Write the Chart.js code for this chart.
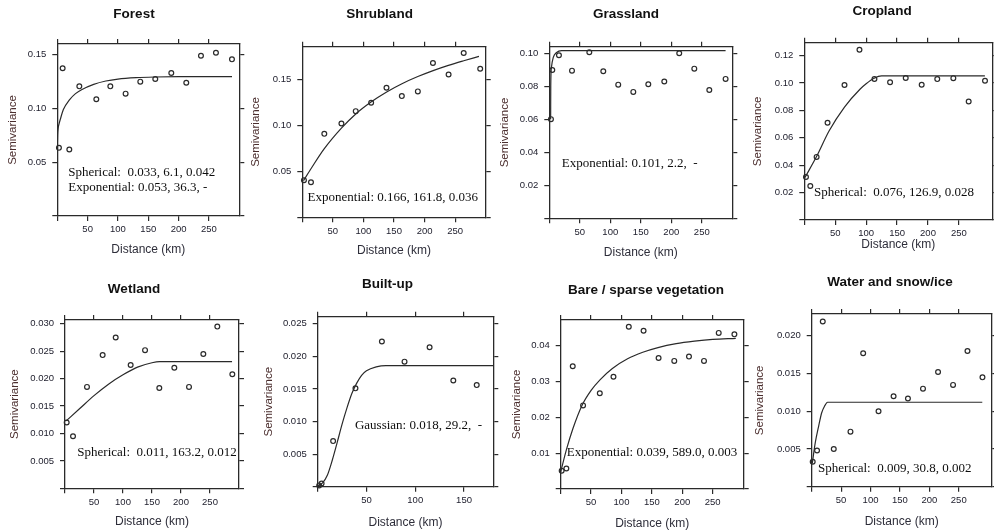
<!DOCTYPE html>
<html>
<head>
<meta charset="utf-8">
<script src="https://cdn.jsdelivr.net/npm/chart.js@4.4.1/dist/chart.umd.min.js"></script>
<style>
  html, body { margin: 0; padding: 0; background: #fff; overflow: hidden; }
  #wrap { position: relative; width: 994px; height: 532px; overflow: hidden; background: #fff; }
  #wrap canvas { position: absolute; }
</style>
</head>
<body>
<div id="wrap"></div>
<script>
// ---- data (lag in km, semivariance) ----
const forestLag   = [2.7, 8.8, 19.8, 36.3, 64.3, 87.4, 112.6, 136.8, 161.5, 187.9, 212.6, 236.8, 261.5, 287.9];
const forestGamma = [0.0634, 0.1374, 0.0619, 0.1206, 0.1086, 0.1206, 0.1138, 0.125, 0.1274, 0.133, 0.124, 0.1491, 0.1519, 0.1457];
const forestFitLag = [0, 0.5, 1.5, 3, 5, 10, 20, 30, 40, 60, 80, 100, 130, 160, 200, 288];
const forestFit    = [0.064, 0.075, 0.082, 0.086, 0.090, 0.099, 0.108, 0.1138, 0.1175, 0.1225, 0.1256, 0.1274, 0.1287, 0.1293, 0.1296, 0.1296];

const shrubLag   = [2.7, 14.2, 36, 64, 87.4, 112.6, 137.7, 162.8, 189, 213.7, 239.3, 264, 291];
const shrubGamma = [0.0404, 0.0382, 0.0909, 0.1022, 0.1156, 0.1247, 0.1411, 0.132, 0.1371, 0.168, 0.1556, 0.1789, 0.1618];
const shrubFitLag = [2, 15, 36, 64, 87, 113, 138, 163, 189, 214, 239, 264, 289];
const shrubFit    = [0.040, 0.0537, 0.0747, 0.0971, 0.1123, 0.1258, 0.1365, 0.1455, 0.1533, 0.1598, 0.1655, 0.1705, 0.1752];

const grassLag   = [2.7, 4.9, 15.8, 37.2, 65.6, 88.5, 113, 137.7, 162.3, 188.5, 213, 237.7, 262.3, 289];
const grassGamma = [0.0601, 0.0899, 0.0988, 0.0895, 0.1006, 0.0891, 0.081, 0.0766, 0.0812, 0.0829, 0.1, 0.0907, 0.0778, 0.0845];
const grassFitLag = [2.2, 2.4, 3.5, 6.5, 12, 20, 289];
const grassFit    = [0.060, 0.080, 0.0915, 0.0975, 0.1005, 0.1016, 0.1016];

const cropLag   = [2.7, 9.7, 19.9, 37.6, 65, 89.2, 113.4, 138.7, 164, 189.8, 215, 241, 265.8, 292.2];
const cropGamma = [0.0314, 0.0248, 0.0461, 0.0710, 0.0986, 0.1243, 0.103, 0.1006, 0.1037, 0.0988, 0.1029, 0.1036, 0.0866, 0.1017];
const cropFitLag = [1, 20, 40, 65, 90, 100, 113, 125, 292];
const cropFit    = [0.031, 0.0465, 0.065, 0.0825, 0.0955, 0.0995, 0.1035, 0.1052, 0.1052];

const wetLag   = [2.9, 13.8, 37.9, 64.9, 87.4, 113.2, 138, 162.6, 188.5, 213.8, 238.5, 262.6, 288.5];
const wetGamma = [0.0120, 0.0095, 0.0185, 0.0243, 0.0275, 0.0225, 0.0252, 0.0183, 0.0220, 0.0185, 0.0245, 0.0295, 0.0208];
const wetFitLag = [2, 25, 50, 75, 100, 125, 150, 163, 288];
const wetFit    = [0.0123, 0.0145, 0.0169, 0.019, 0.0207, 0.0221, 0.0229, 0.0231, 0.0231];

const builtLag   = [1.5, 4, 15.8, 38.7, 65.8, 89, 114.7, 139, 163];
const builtGamma = [0.0002, 0.0005, 0.0070, 0.0151, 0.0223, 0.0192, 0.0214, 0.0163, 0.0156];
const builtFitLag = [0, 5, 10, 15, 20, 25, 30, 35, 40, 45, 50, 60, 70, 180];
const builtFit    = [0.0001, 0.0006, 0.0018, 0.0041, 0.0068, 0.0096, 0.0121, 0.0143, 0.0159, 0.0171, 0.0178, 0.0184, 0.0186, 0.0186];

const bareLag   = [1.6, 9.3, 19.8, 36.8, 64.3, 86.8, 112, 136.3, 161, 186.8, 211, 235.7, 259.9, 285.7];
const bareGamma = [0.0051, 0.0057, 0.0342, 0.0233, 0.0267, 0.0313, 0.0452, 0.0441, 0.0365, 0.0357, 0.0369, 0.0357, 0.0435, 0.0431];
const bareFitLag = [0, 10, 20, 35, 50, 65, 85, 110, 135, 160, 190, 220, 250, 288];
const bareFit    = [0.0048, 0.0113, 0.0168, 0.0233, 0.0275, 0.0305, 0.0336, 0.0363, 0.0381, 0.0394, 0.0405, 0.0412, 0.0417, 0.042];

const waterLag   = [1.7, 9.1, 18.8, 37.5, 65.9, 87.5, 113.6, 139.2, 163.6, 189.2, 214.8, 240.3, 264.8, 290.3];
const waterGamma = [0.0033, 0.0048, 0.0219, 0.0050, 0.0073, 0.0177, 0.0100, 0.0120, 0.0117, 0.0130, 0.0152, 0.0135, 0.0180, 0.0145];
const waterFitLag = [1, 6, 12, 17, 22, 27, 290];
const waterFit    = [0.0031, 0.0058, 0.0081, 0.0098, 0.0107, 0.0112, 0.0112];

// tick values
const xTicks300 = [0, 50, 100, 150, 200, 250];
const xTicks180 = [0, 50, 100, 150];
const yTicksForest = [0, 0.05, 0.10, 0.15];
const yTicksShrub  = [0, 0.05, 0.10, 0.15];
const yTicksGrass  = [0, 0.02, 0.04, 0.06, 0.08, 0.10];
const yTicksCrop   = [0, 0.02, 0.04, 0.06, 0.08, 0.10, 0.12];
const yTicksWet    = [0, 0.005, 0.010, 0.015, 0.020, 0.025, 0.030];
const yTicksBuilt  = [0, 0.005, 0.010, 0.015, 0.020, 0.025];
const yTicksBare   = [0, 0.01, 0.02, 0.03, 0.04];
const yTicksWater  = [0, 0.005, 0.010, 0.015, 0.020];

const panels = [
  { name: 'Forest', lag: forestLag, gamma: forestGamma, fitLag: forestFitLag, fit: forestFit,
    xMax: 300, yMax: 0.160, xTicks: xTicks300, yTicks: yTicksForest, dec: 2,
    notes: [{ text: 'Spherical:  0.033, 6.1, 0.042', fx: 0.060, fy: 0.745 },
            { text: 'Exponential: 0.053, 36.3, -', fx: 0.060, fy: 0.833 }],
    box: [57.3, 44, 239.3, 216], tx: 134, ty: 14, yx: 12.7, xy: 249.3 },
  { name: 'Shrubland', lag: shrubLag, gamma: shrubGamma, fitLag: shrubFitLag, fit: shrubFit,
    xMax: 300, yMax: 0.1858, xTicks: xTicks300, yTicks: yTicksShrub, dec: 2,
    notes: [{ text: 'Exponential: 0.166, 161.8, 0.036', fx: 0.029, fy: 0.883 }],
    box: [302.3, 46.7, 485.7, 217.3], tx: 379.5, ty: 14, yx: 256, xy: 250.7 },
  { name: 'Grassland', lag: grassLag, gamma: grassGamma, fitLag: grassFitLag, fit: grassFit,
    xMax: 300, yMax: 0.104, xTicks: xTicks300, yTicks: yTicksGrass, dec: 2,
    notes: [{ text: 'Exponential: 0.101, 2.2,  -', fx: 0.068, fy: 0.679 }],
    box: [549.3, 46.7, 732.3, 218.3], tx: 626, ty: 14, yx: 505, xy: 252.7 },
  { name: 'Cropland', lag: cropLag, gamma: cropGamma, fitLag: cropFitLag, fit: cropFit,
    xMax: 304, yMax: 0.1295, xTicks: xTicks300, yTicks: yTicksCrop, dec: 2,
    notes: [{ text: 'Spherical:  0.076, 126.9, 0.028', fx: 0.052, fy: 0.846 }],
    box: [804.3, 42.7, 992.3, 220], tx: 882, ty: 11, yx: 757.7, xy: 245 },
  { name: 'Wetland', lag: wetLag, gamma: wetGamma, fitLag: wetFitLag, fit: wetFit,
    xMax: 300, yMax: 0.0307, xTicks: xTicks300, yTicks: yTicksWet, dec: 3,
    notes: [{ text: 'Spherical:  0.011, 163.2, 0.012', fx: 0.071, fy: 0.788 }],
    box: [65, 320, 239, 488.3], tx: 134, ty: 289, yx: 15, xy: 521.7 },
  { name: 'Built-up', lag: builtLag, gamma: builtGamma, fitLag: builtFitLag, fit: builtFit,
    xMax: 180, yMax: 0.0261, xTicks: xTicks180, yTicks: yTicksBuilt, dec: 3,
    notes: [{ text: 'Gaussian: 0.018, 29.2,  -', fx: 0.212, fy: 0.643 }],
    box: [317.7, 316.7, 493.3, 486.7], tx: 387.7, ty: 284, yx: 269, xy: 522.7 },
  { name: 'Bare / sparse vegetation', lag: bareLag, gamma: bareGamma, fitLag: bareFitLag, fit: bareFit,
    xMax: 301, yMax: 0.0471, xTicks: xTicks300, yTicks: yTicksBare, dec: 2,
    notes: [{ text: 'Exponential: 0.039, 589.0, 0.003', fx: 0.033, fy: 0.785 }],
    box: [560.7, 320, 743.7, 489], tx: 646, ty: 290, yx: 516.7, xy: 524 },
  { name: 'Water and snow/ice', lag: waterLag, gamma: waterGamma, fitLag: waterFitLag, fit: waterFit,
    xMax: 306, yMax: 0.0229, xTicks: xTicks300, yTicks: yTicksWater, dec: 3,
    notes: [{ text: 'Spherical:  0.009, 30.8, 0.002', fx: 0.035, fy: 0.897 }],
    box: [811.7, 314, 991.7, 486.7], tx: 890, ty: 281.7, yx: 760, xy: 521.7 }
];

Chart.defaults.font.family = '"Liberation Sans", Arial, sans-serif';
Chart.defaults.color = '#222230';

// model text written inside the plot box
const notesPlugin = {
  id: 'notes',
  afterDatasetsDraw(chart, args, opts) {
    const a = chart.chartArea, ctx = chart.ctx;
    ctx.save();
    ctx.font = '13px "Liberation Serif", "Times New Roman", serif';
    ctx.fillStyle = '#0d0d0d';
    ctx.textBaseline = 'middle';
    (opts.items || []).forEach(n => {
      ctx.fillText(n.text, a.left + n.fx * (a.right - a.left), a.top + n.fy * (a.bottom - a.top));
    });
    ctx.restore();
  }
};

const LH_T = 13.5 * 1.2, LH_Y = 11.5 * 1.2, LH_X = 12 * 1.2, TOP_H = 6, TICK = 5;
const wrap = document.getElementById('wrap');

panels.forEach(p => {
  const [l, t, r, b] = p.box;
  const cl = Math.round(p.yx - LH_Y / 2);
  const wl = l - cl;
  let wr = Math.max(8, wl - (l + r - 2 * p.tx));
  const cw = Math.round(r + wr) - cl;
  wr = cl + cw - r;
  const ct = Math.round(p.ty - LH_T / 2);
  const padB = t - ct - LH_T - TOP_H;
  const ch = Math.round(p.xy + LH_X / 2) - ct;
  const hb = ct + ch - b;

  const canvas = document.createElement('canvas');
  canvas.width = cw; canvas.height = ch;
  canvas.style.left = cl + 'px'; canvas.style.top = ct + 'px';
  wrap.appendChild(canvas);

  const grid = { drawOnChartArea: false, drawTicks: true, tickLength: TICK, tickColor: '#2a2a2a', color: '#2a2a2a', lineWidth: 1.2 };
  const border = { display: true, color: '#2a2a2a', width: 1.3 };
  const setX = s => { s.ticks = p.xTicks.map(v => ({ value: v })); };
  const setY = s => { s.ticks = p.yTicks.map(v => ({ value: v })); };

  new Chart(canvas, {
    type: 'scatter',
    data: {
      datasets: [
        { data: p.lag.map((x, i) => ({ x: x, y: p.gamma[i] })),
          pointStyle: 'circle', pointRadius: 2.4, pointBorderWidth: 1.2,
          borderColor: '#2a2a2a', backgroundColor: 'rgba(0,0,0,0)', clip: false,
          xAxisID: 'x', yAxisID: 'y' },
        { data: p.fitLag.map((x, i) => ({ x: x, y: p.fit[i] })),
          showLine: true, pointRadius: 0, borderColor: '#2a2a2a', borderWidth: 1.2,
          cubicInterpolationMode: 'monotone', fill: false,
          xAxisID: 'x', yAxisID: 'y' }
      ]
    },
    options: {
      responsive: false,
      animation: false,
      events: [],
      layout: { padding: 0 },
      plugins: {
        legend: { display: false },
        tooltip: { enabled: false },
        title: { display: true, text: p.name, color: '#111',
                 font: { size: 13.5, weight: 'bold' }, padding: { top: 0, bottom: padB } },
        notes: { items: p.notes }
      },
      scales: {
        x: { type: 'linear', position: 'bottom', min: 0, max: p.xMax,
             afterBuildTicks: setX, afterFit: s => { s.height = hb; },
             ticks: { callback: v => v === 0 ? '' : String(v), padding: 3, font: { size: 9.5 },
                      maxRotation: 0, autoSkip: false },
             grid: grid, border: border,
             title: { display: true, text: 'Distance (km)', color: '#2e2e3a', font: { size: 12 }, padding: 0 } },
        x2: { type: 'linear', position: 'top', min: 0, max: p.xMax,
              afterBuildTicks: setX, afterFit: s => { s.height = TOP_H; },
              ticks: { display: false }, grid: grid, border: border },
        y: { type: 'linear', position: 'left', min: 0, max: p.yMax,
             afterBuildTicks: setY, afterFit: s => { s.width = wl; },
             ticks: { callback: v => v === 0 ? '' : v.toFixed(p.dec), padding: 6, font: { size: 9.5 }, autoSkip: false },
             grid: grid, border: border,
             title: { display: true, text: 'Semivariance', color: '#4b2e2e', font: { size: 11.5 }, padding: 0 } },
        y2: { type: 'linear', position: 'right', min: 0, max: p.yMax,
              afterBuildTicks: setY, afterFit: s => { s.width = wr; },
              ticks: { display: false }, grid: grid, border: border }
      }
    },
    plugins: [notesPlugin]
  });
});
</script>
</body>
</html>
